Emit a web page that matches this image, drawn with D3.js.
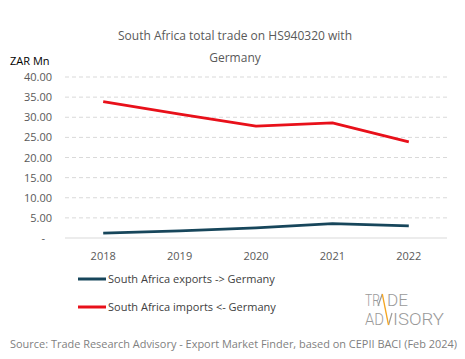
<!DOCTYPE html>
<html><head><meta charset="utf-8">
<script src="https://cdn.jsdelivr.net/npm/d3@7"></script>
<style>body{margin:0;background:#fff}svg{display:block}</style>
</head><body>
<script>
const years = ["2018","2019","2020","2021","2022"];
const exportsZAR = [1.2, 1.8, 2.5, 3.6, 3.0];
const importsZAR = [33.9, 30.8, 27.8, 28.6, 23.9];
const yTicks = [0,5,10,15,20,25,30,35,40];
const seriesNames = ["South Africa exports -> Germany","South Africa imports <- Germany"];
const seriesColors = ["#17465b","#e8101a"];

const W=465,H=359;
const font="'Open Sans', sans-serif";
const svg=d3.select("body").append("svg").attr("width",W).attr("height",H);
svg.append("rect").attr("width",W).attr("height",H).attr("fill","#fff");

const x=d3.scaleBand().domain(years).range([65,447]);
const y=d3.scaleLinear().domain([0,40]).range([238,77]);

// title
svg.append("text").attr("x",235).attr("y",40).attr("text-anchor","middle")
  .attr("font-family",font).attr("font-size",12).attr("fill","#595959")
  .text("South Africa total trade on HS940320 with");
svg.append("text").attr("x",235).attr("y",62).attr("text-anchor","middle")
  .attr("font-family",font).attr("font-size",12).attr("fill","#595959")
  .text("Germany");
svg.append("text").attr("x",10).attr("y",65)
  .attr("font-family",font).attr("font-size",11).attr("fill","#000")
  .text("ZAR Mn");

// y axis labels
const yAxis=d3.axisLeft(y).tickValues(yTicks).tickSize(0).tickPadding(0)
  .tickFormat(d=>d===0?"-":d.toFixed(2));
const gy=svg.append("g").attr("transform","translate(52,0)").call(yAxis);
gy.select(".domain").remove();
gy.selectAll("text").attr("font-family",font).attr("font-size",11).attr("fill","#595959")
  .attr("x",d=>d===0?-7:0);

// grid
svg.append("g").selectAll("line").data(yTicks.filter(d=>d>0)).join("line")
  .attr("x1",65).attr("x2",447).attr("y1",d=>y(d)).attr("y2",d=>y(d))
  .attr("stroke","#d9d9d9").attr("stroke-width",1).attr("stroke-dasharray","4,3");
svg.append("line").attr("x1",65).attr("x2",447).attr("y1",y(0)).attr("y2",y(0))
  .attr("stroke","#d9d9d9").attr("stroke-width",1);

const xAxis=d3.axisBottom(x).tickSize(0).tickPadding(0);
const gx=svg.append("g").attr("transform","translate(0,252)").call(xAxis);
gx.select(".domain").remove();
gx.selectAll("text").attr("font-family",font).attr("font-size",11).attr("fill","#595959").attr("dy","0.71em");

const line=d3.line().x((d,i)=>x(years[i])+x.bandwidth()/2).y(d=>y(d));
[exportsZAR,importsZAR].forEach((s,i)=>{
  svg.append("path").datum(s).attr("d",line).attr("fill","none")
    .attr("stroke",seriesColors[i]).attr("stroke-width",2.75).attr("stroke-linejoin","round");
});

// legend
seriesNames.forEach((n,i)=>{
  const ly=279+i*28;
  svg.append("line").attr("x1",78).attr("x2",106).attr("y1",ly).attr("y2",ly)
    .attr("stroke",seriesColors[i]).attr("stroke-width",3);
  svg.append("text").attr("x",108).attr("y",ly+4).attr("font-family",font)
    .attr("font-size",11).attr("fill","#404040").text(n);
});

// source
svg.append("text").attr("x",10).attr("y",348).attr("font-family",font).attr("font-size",11)
  .attr("fill","#7f7f7f").attr("textLength",447).attr("lengthAdjust","spacingAndGlyphs")
  .text("Source: Trade Research Advisory - Export Market Finder, based on CEPII BACI (Feb 2024)");

// logo
const lg=svg.append("g");
const lf="Roboto, sans-serif";
const ls=16;
function lt(t,x0,y0,len){
  lg.append("text").attr("x",x0).attr("y",y0).attr("font-family",lf).attr("font-weight",300)
    .attr("font-size",ls).attr("fill","#9a9a9a").attr("textLength",len)
    .attr("lengthAdjust","spacingAndGlyphs").text(t);
}
lt("TR",365,306,15);
lt("DE",387,306,21);
lt("AD",365,325,19);
lt("ISORY",393,325,51);
lg.append("line").attr("x1",378).attr("y1",306).attr("x2",382.3).attr("y2",294)
  .attr("stroke","#9a9a9a").attr("stroke-width",1.2);
lg.append("line").attr("x1",388.5).attr("y1",325).attr("x2",392).attr("y2",313)
  .attr("stroke","#9a9a9a").attr("stroke-width",1.2);
lg.append("line").attr("x1",382.3).attr("y1",294).attr("x2",388.5).attr("y2",325)
  .attr("stroke","#f5a623").attr("stroke-width",1.3);
</script>
</body></html>
